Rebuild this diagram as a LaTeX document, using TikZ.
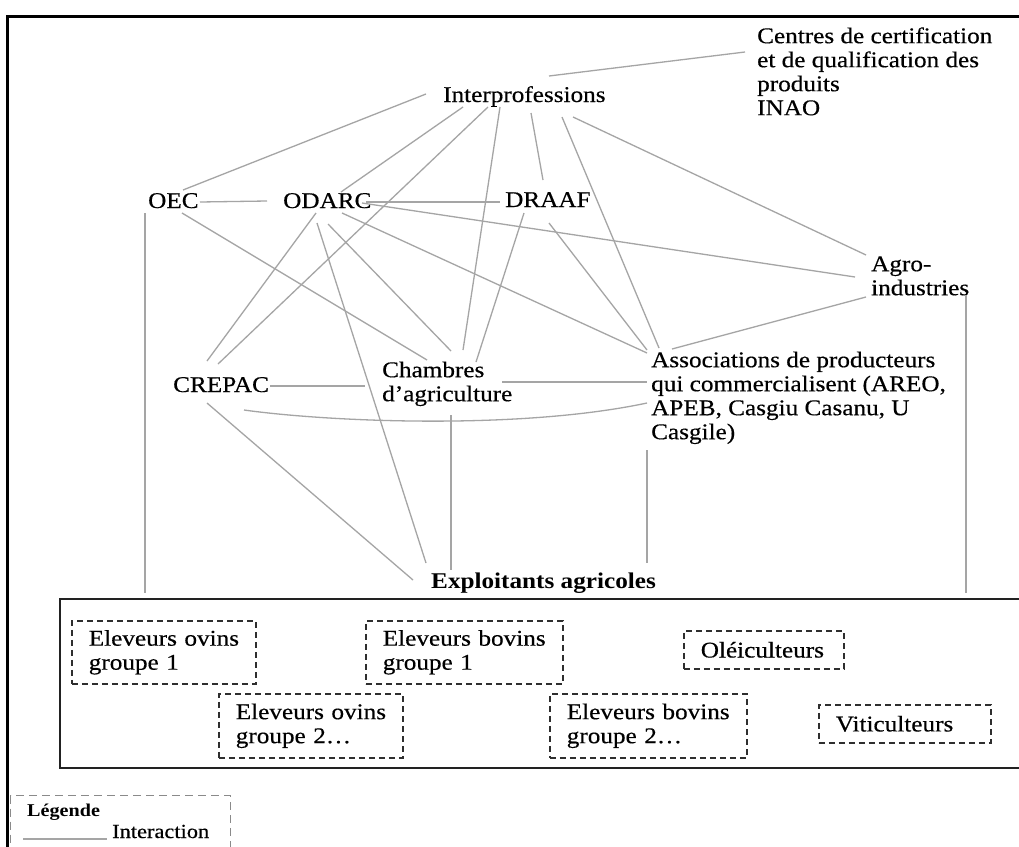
\documentclass[tikz,border=0pt]{standalone}
\usepackage{fontspec}
\setmainfont{Liberation Serif}[FakeStretch=1.12, UprightFeatures={FakeBold=0.4}]
\usetikzlibrary{calc}
\definecolor{edgegray}{HTML}{A5A5A5}
\definecolor{dashdark}{HTML}{2E2E2E}
\definecolor{leggray}{HTML}{8A8A8A}
\definecolor{boxdark}{HTML}{222222}
\begin{document}
\begin{tikzpicture}[x=1pt,y=-1pt,
  lbl/.style={inner sep=0pt, font=\fontsize{22.5}{24}\selectfont},
  mlbl/.style={lbl, align=left, anchor=north west},
  link/.style={draw=edgegray, line width=1.3pt},
  grp/.style={draw=dashdark, dash pattern=on 6pt off 4pt, line width=1.6pt,
    anchor=north west, inner xsep=17pt, inner ysep=0pt, align=left,
    font=\fontsize{22.5}{24}\selectfont}
]
\clip (0,0) rectangle (1019,846);
\fill[white] (0,0) rectangle (1019,846);
% outer frame
\draw[line width=3pt] (1040,16) -- (7,16) -- (7,870);

% actors
\node[lbl, anchor=base west] (inter) at (443,102) {Interprofessions};
\node[mlbl] (centres) at (757,27) {\rule{0pt}{16pt}Centres de certification\\et de qualification des\\produits\\INAO};
\node[lbl, anchor=base west] (oec) at (148,208) {OEC};
\node[lbl, anchor=base west] (odarc) at (283,208) {ODARC};
\node[lbl, anchor=base west] (draaf) at (505,207) {DRAAF};
\node[mlbl] (agro) at (871,255) {\rule{0pt}{16pt}Agro-\\industries};
\node[lbl, anchor=base west] (crepac) at (173,392) {CREPAC};
\node[mlbl] (chambres) at (382,361) {\rule{0pt}{16pt}Chambres\\d’agriculture};
\node[mlbl] (assoc) at (651,351) {\rule{0pt}{16pt}Associations de producteurs\\qui commercialisent (AREO,\\APEB, Casgiu Casanu, U\\Casgile)};
\node[lbl, font=\fontsize{22.5}{24}\selectfont\bfseries, anchor=base west] (expl) at (431,588) {Exploitants agricoles};

% farmers box
\node[draw=boxdark, line width=2pt, minimum width=1000pt, minimum height=169pt, anchor=north west, inner sep=0pt] (farms) at (59,598) {};
\node[grp, text width=150pt, minimum height=63pt] (ov1) at (71,620) {\mbox{Eleveurs ovins}\\groupe 1};
\node[grp, text width=163pt, minimum height=63pt] (bv1) at (365,620) {\mbox{Eleveurs bovins}\\groupe 1};
\node[grp, text width=150pt, minimum height=64pt] (ov2) at (218,693) {\mbox{Eleveurs ovins}\\groupe 2…};
\node[grp, text width=163pt, minimum height=64pt] (bv2) at (549,693) {\mbox{Eleveurs bovins}\\groupe 2…};
\node[grp, text width=126pt, minimum height=38pt] (oleo) at (683,630) {\mbox{Oléiculteurs}};
\node[grp, text width=138pt, minimum height=38pt] (viti) at (818,704) {\mbox{Viticulteurs}};

% connectors
\draw[link] ([shift={(106,-26)}]inter.base west) -- ([shift={(-12,25)}]centres.north west);
\draw[link] ([shift={(-17,-8)}]inter.base west) -- ([shift={(35,-18)}]oec.base west);
\draw[link] ([shift={(20,5)}]inter.base west) -- ([shift={(58,-16)}]odarc.base west);
\draw[link] ([shift={(45,5)}]inter.base west) -- ([shift={(45,-28)}]crepac.base west);
\draw[link] ([shift={(57,5)}]inter.base west) -- ([shift={(81,-11)}]chambres.north west);
\draw[link] ([shift={(88,11)}]inter.base west) -- ([shift={(38,-27)}]draaf.base west);
\draw[link] ([shift={(119,15)}]inter.base west) -- ([shift={(8,-3)}]assoc.north west);
\draw[link] ([shift={(130,15)}]inter.base west) -- ([shift={(-5,0)}]agro.north west);
\draw[link] ([shift={(52,-6)}]oec.base west) -- ([shift={(-16,-7)}]odarc.base west);
\draw[link] ([shift={(34,5)}]oec.base west) -- ([shift={(45,-1)}]chambres.north west);
\draw[link] ([shift={(-3,5)}]oec.base west) -- ([shift={(86,-5)}]farms.north west);
\draw[link] ([shift={(83,-6)}]odarc.base west) -- ([shift={(-5,-5)}]draaf.base west);
\draw[link] ([shift={(79,-5)}]odarc.base west) -- ([shift={(-16,22)}]agro.north west);
\draw[link] ([shift={(33,5)}]odarc.base west) -- ([shift={(34,-31)}]crepac.base west);
\draw[link] ([shift={(34,15)}]odarc.base west) -- ([shift={(-5,-25)}]expl.base west);
\draw[link] ([shift={(45,16)}]odarc.base west) -- ([shift={(69,-10)}]chambres.north west);
\draw[link] ([shift={(59,5)}]odarc.base west) -- ([shift={(-4,2)}]assoc.north west);
\draw[link] ([shift={(19,6)}]draaf.base west) -- ([shift={(94,1)}]chambres.north west);
\draw[link] ([shift={(44,16)}]draaf.base west) -- ([shift={(-4,-1)}]assoc.north west);
\draw[link] ([shift={(-5,42)}]agro.north west) -- ([shift={(21,-2)}]assoc.north west);
\draw[link] ([shift={(95,40)}]agro.north west) -- ([shift={(907,-5)}]farms.north west);
\draw[link] ([shift={(97,-6)}]crepac.base west) -- ([shift={(-17,25)}]chambres.north west);
\draw[link] ([shift={(71,18)}]crepac.base west) .. controls (330,422) and (520,430) .. ([shift={(-4,52)}]assoc.north west);
\draw[link] ([shift={(34,11)}]crepac.base west) -- ([shift={(-18,-8)}]expl.base west);
\draw[link] ([shift={(120,21)}]chambres.north west) -- ([shift={(-4,31)}]assoc.north west);
\draw[link] ([shift={(69,54)}]chambres.north west) -- ([shift={(20,-18)}]expl.base west);
\draw[link] ([shift={(-4,99)}]assoc.north west) -- ([shift={(216,-25)}]expl.base west);

% legend
\node[draw=leggray, dash pattern=on 8pt off 5pt, line width=1.4pt, minimum width=220pt, minimum height=80pt, anchor=north west, inner sep=0pt] (legend) at (10,795) {};
\node[lbl, font=\fontsize{18}{20}\selectfont\bfseries, anchor=base west] (legtitle) at (27,816) {Légende};
\node[lbl, font=\fontsize{20}{22}\selectfont, anchor=base west] (legtext) at (112,838) {Interaction};
\coordinate (legstart) at (23,839);
\draw[link] (legstart) -- ([shift={(-5,1)}]legtext.base west);
\end{tikzpicture}
\end{document}
